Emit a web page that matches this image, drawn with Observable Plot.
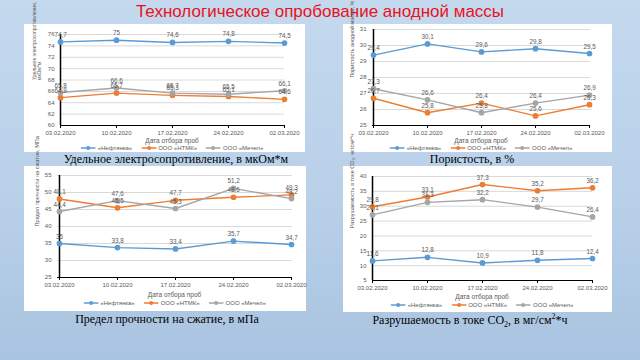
<!DOCTYPE html>
<html><head><meta charset="utf-8">
<script src="https://cdn.jsdelivr.net/npm/d3@7"></script>
<script src="https://cdn.jsdelivr.net/npm/@observablehq/plot@0.6"></script>
<style>
html,body{margin:0;padding:0}
body{width:640px;height:360px;overflow:hidden;position:relative;
 background:linear-gradient(180deg,#c4d9ee 0%,#b9d0e9 55%,#a9c4e1 100%);}
.title{position:absolute;left:0;top:2px;width:640px;text-align:center;color:#e8121c;
 font-family:"Liberation Sans Narrow","Liberation Sans",sans-serif;font-size:17px;}
.panel{position:absolute;background:#fff;}
.panel svg{position:absolute;left:0;top:0;}
.xl{position:absolute;font-family:"Liberation Sans",sans-serif;font-size:6.5px;color:#595959;text-align:center;white-space:nowrap;transform:translateX(-50%);}
.leg{position:absolute;display:flex;gap:9px;font-family:"Liberation Sans",sans-serif;font-size:6px;color:#595959;white-space:nowrap;transform:translateX(-50%);align-items:center}
.leg span{display:flex;align-items:center;gap:2px}
.cap{position:absolute;font-family:"Liberation Serif",serif;font-size:12px;color:#000;white-space:nowrap;transform:translateX(-50%);}
</style></head>
<body>
<div class="title">Технологическое опробование анодной массы</div>
<script>
const dates = ["03.02.2020","10.02.2020","17.02.2020","24.02.2020","02.03.2020"];
const series = ["«Нефтянка»","ООО «НТМК»","ООО «Мечел»"];
const colors = ["#5b9bd5","#ed7d31","#a5a5a5"];

// Удельное электросопротивление
const resNeft = [74.7,75,74.6,74.8,74.5];
const resNtmk = [64.9,65.7,65.3,65.1,64.6];
const resMech = [65.8,66.6,65.7,65.5,66.1];
const resTicks = [60,62,64,66,68,70,72,74,76];

// Пористость
const porNeft = [29.4,30.1,29.6,29.8,29.5];
const porNtmk = [26.7,25.8,26.4,25.6,26.3];
const porMech = [27.3,26.6,25.8,26.4,26.9];
const porTicks = [25,26,27,28,29,30,31];

// Предел прочности на сжатие
const strNeft = [35,33.8,33.4,35.7,34.7];
const strNtmk = [48.1,45.5,47.7,48.6,49.3];
const strMech = [44.4,47.6,45.3,51.2,48.2];
const strTicks = [25,30,35,40,45,50,55];

// Разрушаемость в токе CO2
const co2Neft = [11.6,12.8,10.9,11.8,12.4];
const co2Ntmk = [29.8,33.1,37.3,35.2,36.2];
const co2Mech = [27.1,31.3,32.2,29.7,26.4];
const co2Ticks = [5,10,15,20,25,30,35,40];

const xLabel = "Дата отбора проб";

function rows(a,b,c){
  const out=[];
  [a,b,c].forEach((arr,i)=>arr.forEach((v,j)=>out.push({date:dates[j],series:series[i],value:v})));
  return out;
}
const fmt = v => String(v).replace(".", ",");

function panel(p){
  const box = document.createElement("div");
  box.className="panel";
  Object.assign(box.style,{left:p.left+"px",top:p.top+"px",width:p.w+"px",height:p.h+"px"});
  const data = rows(...p.data);
  const ticks = p.ticks;
  const lo = ticks[0], hi = ticks[ticks.length-1];
  const chart = Plot.plot({
    width:p.w, height:p.svgH,
    marginLeft:p.ml, marginRight:p.mr, marginTop:p.mt, marginBottom:p.svgH-p.plotBottom,
    style:{fontFamily:"Liberation Sans, sans-serif",fontSize:"6px",color:"#595959",background:"transparent",overflow:"visible"},
    x:{type:"point",domain:dates,padding:0,label:null},
    y:{domain:[lo,hi],label:null},
    color:{domain:series,range:colors},
    marks:[
      Plot.gridY(ticks,{stroke:"#d9d9d9",strokeOpacity:1}),
      Plot.axisY(ticks,{tickSize:0,tickPadding:6,label:null,fill:"#595959"}),
      Plot.axisX({tickSize:3,tickPadding:2,label:null,fill:"#595959",stroke:"#000"}),
      Plot.ruleY([lo],{stroke:"#000",strokeWidth:1}),
      Plot.ruleX([dates[0]],{stroke:"#000",strokeWidth:1.5}),
      Plot.line(data,{x:"date",y:"value",stroke:"series",z:"series",strokeWidth:1.4}),
      Plot.dot(data,{x:"date",y:"value",fill:"series",stroke:"series",r:2.1}),
      Plot.text(data,{x:"date",y:"value",text:d=>fmt(d.value),dy:-7,fill:"#595959",fontSize:6.3}),
      Plot.text([p.ylabel],{frameAnchor:"left",dx:-p.ml+p.ylx,rotate:-90,fill:"#595959",fontSize:p.ylf,lineHeight:1.1})
    ]
  });
  box.appendChild(chart);
  const cx = (p.ml + (p.w - p.mr))/2;
  const xl = document.createElement("div");
  xl.className="xl"; xl.textContent = xLabel;
  Object.assign(xl.style,{left:cx+"px",top:p.xlY+"px"});
  box.appendChild(xl);
  const leg = document.createElement("div");
  leg.className="leg";
  Object.assign(leg.style,{left:cx+"px",top:p.legY+"px"});
  series.forEach((s,i)=>{
    const sp=document.createElement("span");
    sp.innerHTML=`<svg width="15" height="6" style="position:static"><line x1="0" y1="3" x2="15" y2="3" stroke="${colors[i]}" stroke-width="1.3"/><circle cx="7.5" cy="3" r="2" fill="${colors[i]}"/></svg>${s}`;
    leg.appendChild(sp);
  });
  box.appendChild(leg);
  document.body.appendChild(box);
  const cap = document.createElement("div");
  cap.className="cap"; cap.innerHTML = p.caption;
  Object.assign(cap.style,{left:p.capX+"px",top:p.capY+"px"});
  document.body.appendChild(cap);
}

panel({left:24,top:24,w:281,h:128,svgH:112,ml:36,mr:21,mt:10,plotBottom:101,
  data:[resNeft,resNtmk,resMech],ticks:resTicks,ylx:12,ylf:5,
  ylabel:"Удельное электросопротивление,\nмкОм*м",xlY:113,legY:121,
  caption:"Удельное электросопротивление, в мкОм*м",capX:176,capY:152});
panel({left:343,top:24,w:269,h:128,svgH:112,ml:29,mr:22,mt:5,plotBottom:101,
  data:[porNeft,porNtmk,porMech],ticks:porTicks,ylx:9,ylf:5.4,
  ylabel:"Пористость анодной массы, %",xlY:113,legY:121,
  caption:"Пористость, в %",capX:472,capY:152});
panel({left:24,top:166,w:282,h:145,svgH:122,ml:33,mr:14,mt:9,plotBottom:111,
  data:[strNeft,strNtmk,strMech],ticks:strTicks,ylx:13,ylf:5.6,
  ylabel:"Предел прочности на сжатие, МПа",xlY:125,legY:134,
  caption:"Предел прочности на сжатие, в мПа",capX:167,capY:312});
panel({left:343,top:166,w:269,h:146,svgH:125,ml:29,mr:20,mt:10,plotBottom:114,
  data:[co2Neft,co2Ntmk,co2Mech],ticks:co2Ticks,ylx:9,ylf:5.6,
  ylabel:"Разрушаемость в токе CO₂, мг/см²*ч",xlY:127,legY:136,
  caption:"Разрушаемость в токе CO<sub style=\"font-size:8px\">2</sub>, в мг/см<sup style=\"font-size:8px\">2</sup>*ч",capX:470,capY:312});
</script>
</body></html>
